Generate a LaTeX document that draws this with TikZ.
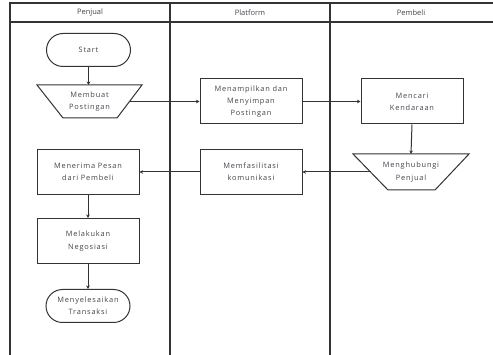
\documentclass[tikz,border=0pt]{standalone}
\usepackage{fontspec}
\setmainfont{Open Sans}
\newfontfamily\lab[LetterSpace=11]{Open Sans}
\usetikzlibrary{shapes.misc,arrows.meta,calc}
\definecolor{ln}{HTML}{333333}
\definecolor{tx}{HTML}{44444F}
\tikzset{
  lane/.style={draw=ln,line width=1.2pt},
  hdr/.style={font=\fontsize{7.5}{9}\selectfont,text=tx},
  txt/.style={font=\lab\fontsize{7.4}{12.3}\selectfont,text=tx,align=center},
  boxn/.style={txt,draw=ln,line width=1pt,minimum width=102pt,minimum height=45pt,inner sep=0pt},
  stad/.style={txt,draw=ln,line width=1pt,rounded rectangle,minimum width=84pt,minimum height=33pt,inner sep=0pt},
  trapline/.style={draw=ln,line width=1pt},
  conn/.style={draw=ln,line width=1pt,-{Stealth[length=3.5pt,width=3.5pt]}}
}
\begin{document}
\begin{tikzpicture}[x=1pt,y=-1pt]
\useasboundingbox (0,0) rectangle (493,355);
\fill[white] (0,0) rectangle (493,355);
% lanes
\draw[lane] (493,3) -- (10,3) -- (10,356);
\draw[lane] (10,22) -- (493,22);
\draw[lane] (170,3) -- (170,356);
\draw[lane] (330,3) -- (330,356);
\node[hdr] (h1) at (90,12.5) {Penjual};
\node[hdr] (h2) at (250,12.5) {Platform};
\node[hdr] (h3) at (411,12.5) {Pembeli};
% nodes
\node[stad] (start) at (88.5,50) {Start};
\node[txt] (mp) at (89.5,101.5) {Membuat\\Postingan};
\draw[trapline] (37,85) -- (142,85) -- (117,118) -- (63,118) -- cycle;
\coordinate (mpT) at (89.5,85);
\coordinate (mpR) at (129.5,101.5);
\node[boxn] (mn) at (251,101.5) {Menampilkan dan\\Menyimpan\\Postingan};
\node[boxn] (mc) at (412,101.5) {Mencari\\Kendaraan};
\node[txt] (mh) at (411,172) {Menghubungi\\Penjual};
\draw[trapline] (353,154) -- (469,154) -- (435,190) -- (388,190) -- cycle;
\coordinate (mhT) at (411,154);
\coordinate (mhL) at (370.5,172);
\node[boxn] (mf) at (251,172) {Memfasilitasi\\komunikasi};
\node[boxn] (mr) at (88,172) {Menerima Pesan\\dari Pembeli};
\node[boxn] (ml) at (88,241) {Melakukan\\Negosiasi};
\node[stad] (ms) at (88,306) {Menyelesaikan\\Transaksi};
% connectors
\draw[conn] (start.south) -- (start.south |- mpT);
\draw[conn] (mpR) -- (mn.west);
\draw[conn] (mn.east) -- (mc.west);
\draw[conn] (mc.south) -- (mhT);
\draw[conn] (mhL) -- (mf.east);
\draw[conn] (mf.west) -- (mr.east);
\draw[conn] (mr.south) -- (ml.north);
\draw[conn] (ml.south) -- (ms.north);
\end{tikzpicture}
\end{document}
